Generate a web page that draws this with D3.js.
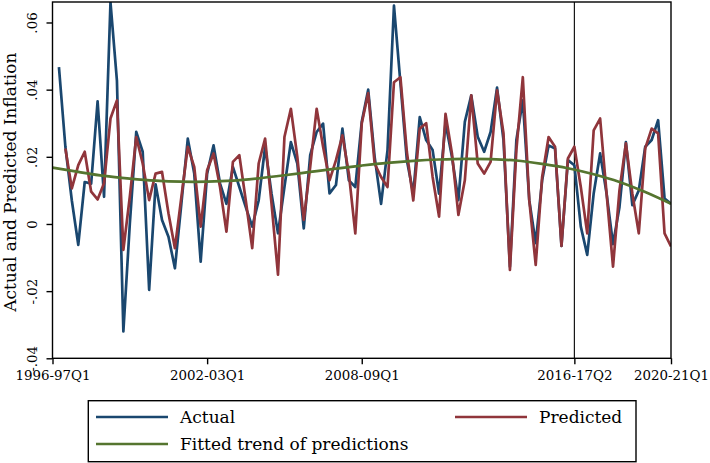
<!DOCTYPE html>
<html>
<head>
<meta charset="utf-8">
<script src="https://cdn.jsdelivr.net/npm/d3@7"></script>
<style>
  body { margin: 0; background: #fff; }
  text { font-family: "DejaVu Serif", serif; fill: #000; }
</style>
</head>
<body>
<svg id="chart"></svg>
<script>
// quarter index 0 = 1996-97Q1 ... 96 = 2020-21Q1
var tickQuarters = [0, 24, 48, 81, 96];
var tickLabels = ["1996-97Q1", "2002-03Q1", "2008-09Q1", "2016-17Q2", "2020-21Q1"];
var yTicks = [-0.04, -0.02, 0, 0.02, 0.04, 0.06];
var yTickLabels = ["-.04", "-.02", "0", ".02", ".04", ".06"];
var breakQuarter = 81;

var actual = [null, 0.0467, 0.023, 0.007, -0.0062, 0.0125, 0.012, 0.0365, 0.0081, 0.066,
  0.0427, -0.032, 0.0, 0.0274, 0.0215, -0.0196, 0.0118, 0.0012, -0.0038, -0.0132,
  0.006, 0.0254, 0.015, -0.0112, 0.015, 0.0234, 0.0121, 0.006, 0.017, 0.011,
  0.005, -0.0008, 0.007, 0.023, 0.009, -0.0028, 0.011, 0.0244, 0.018, -0.0013,
  0.0205, 0.0274, 0.0299, 0.0091, 0.0116, 0.0284, 0.013, 0.011, 0.0304, 0.040,
  0.020, 0.006, 0.022, 0.065, 0.042, 0.019, 0.009, 0.0318, 0.025, 0.022,
  0.009, 0.030, 0.020, 0.0071, 0.0304, 0.0383, 0.026, 0.0215, 0.0274, 0.0406,
  0.025, -0.0127, 0.025, 0.0368, 0.0071, -0.0057, 0.013, 0.0234, 0.0225, -0.0065,
  0.019, 0.0175, -0.0008, -0.0092, 0.0091, 0.021, 0.0091, -0.006, 0.005, 0.0244,
  0.0056, 0.010, 0.023, 0.025, 0.0309, 0.0076, 0.006];

var predicted = [null, null, 0.0225, 0.0106, 0.0175, 0.0215, 0.0096, 0.0073, 0.0121, 0.0314,
  0.0368, -0.0077, 0.0081, 0.0259, 0.018, 0.0071, 0.015, 0.0155, 0.0032, -0.0072,
  0.008, 0.023, 0.017, -0.0008, 0.016, 0.021, 0.011, -0.0023, 0.0185, 0.0205,
  0.007, -0.0072, 0.018, 0.0254, 0.006, -0.0151, 0.0259, 0.0343, 0.020, 0.0012,
  0.017, 0.0343, 0.023, 0.013, 0.019, 0.0264, 0.015, -0.0028, 0.0299, 0.039,
  0.018, 0.014, 0.011, 0.0422, 0.0437, 0.0215, 0.007, 0.0284, 0.030, 0.014,
  0.0022, 0.0328, 0.021, 0.0027, 0.013, 0.0383, 0.018, 0.015, 0.0185, 0.0398,
  0.027, -0.0137, 0.022, 0.0437, 0.0071, -0.0122, 0.014, 0.0259, 0.023, -0.0065,
  0.0195, 0.023, 0.011, -0.0028, 0.0279, 0.0314, 0.0091, -0.0127, 0.010, 0.024,
  0.0091, -0.0028, 0.0225, 0.0284, 0.027, -0.0028, -0.0067];

// fitted trend, read once a year (every 4th quarter)
var trendQuarters = [0, 4, 8, 12, 16, 20, 24, 28, 32, 36, 40, 44, 48, 52, 56, 60, 64, 68, 72, 76, 80, 84, 88, 92, 96];
var trend = [0.0168, 0.0155, 0.0143, 0.0135, 0.0129, 0.0126, 0.0126, 0.0129, 0.0136, 0.0145,
  0.0155, 0.0165, 0.0174, 0.0182, 0.0188, 0.0192, 0.0194, 0.0193, 0.0189, 0.0179,
  0.0166, 0.0148, 0.0125, 0.0095, 0.0060];

var W = 710, H = 463;
var pLeft = 52.5, pRight = 671, pTop = 2, pBottom = 358.3;

var svg = d3.select("#chart").attr("width", W).attr("height", H);

var x = d3.scaleLinear().domain([0, 96]).range([pLeft, pRight]);
var y = d3.scaleLinear().domain([-0.04, 0.0661]).range([pBottom, pTop]);

svg.append("clipPath").attr("id", "clip")
  .append("rect").attr("x", pLeft).attr("y", pTop).attr("width", pRight - pLeft).attr("height", pBottom - pTop);

// vertical marker at 2016-17Q2
svg.append("line")
  .attr("x1", x(breakQuarter)).attr("x2", x(breakQuarter))
  .attr("y1", pTop).attr("y2", pBottom)
  .attr("stroke", "#000").attr("stroke-width", 1.1);

var line = d3.line()
  .defined(function(d) { return d.v !== null; })
  .x(function(d) { return x(d.q); })
  .y(function(d) { return y(d.v); });

function series(arr) {
  return arr.map(function(v, i) { return {q: i, v: v}; });
}

var lines = svg.append("g").attr("clip-path", "url(#clip)");

lines.append("path").datum(series(actual))
  .attr("d", line).attr("fill", "none")
  .attr("stroke", "#1a476f").attr("stroke-width", 2.7).attr("stroke-linejoin", "round");

lines.append("path").datum(series(predicted))
  .attr("d", line).attr("fill", "none")
  .attr("stroke", "#90353b").attr("stroke-width", 2.7).attr("stroke-linejoin", "round");

var trendLine = d3.line()
  .curve(d3.curveCatmullRom)
  .x(function(d, i) { return x(trendQuarters[i]); })
  .y(function(d) { return y(d); });

lines.append("path").datum(trend)
  .attr("d", trendLine).attr("fill", "none")
  .attr("stroke", "#55752f").attr("stroke-width", 2.7);

// frame
svg.append("rect")
  .attr("x", pLeft).attr("y", pTop).attr("width", pRight - pLeft).attr("height", pBottom - pTop)
  .attr("fill", "none").attr("stroke", "#000").attr("stroke-width", 1.4);

// x axis
var xAxis = svg.append("g").attr("transform", "translate(0," + pBottom + ")")
  .call(d3.axisBottom(x).tickValues(tickQuarters)
    .tickFormat(function(d, i) { return tickLabels[i]; })
    .tickSize(6).tickPadding(6));
xAxis.select(".domain").remove();
xAxis.selectAll("line").attr("stroke", "#000").attr("stroke-width", 1.4);
xAxis.selectAll("text").style("font-family", "DejaVu Serif").style("font-size", "13.4px");

// y axis, labels turned sideways like the original
var yAxis = svg.append("g").attr("transform", "translate(" + pLeft + ",0)")
  .call(d3.axisLeft(y).tickValues(yTicks)
    .tickFormat(function(d, i) { return yTickLabels[i]; })
    .tickSize(6));
yAxis.select(".domain").remove();
yAxis.selectAll("line").attr("stroke", "#000").attr("stroke-width", 1.4);
yAxis.selectAll("text")
  .style("font-family", "DejaVu Serif").style("font-size", "13.4px")
  .attr("text-anchor", "middle")
  .attr("transform", "rotate(-90)")
  .attr("x", 0).attr("y", -15.5).attr("dy", null);

// y title
svg.append("text")
  .attr("transform", "translate(15.5," + ((pTop + pBottom) / 2 + 2) + ") rotate(-90)")
  .attr("text-anchor", "middle")
  .style("font-size", "17px")
  .text("Actual and Predicted Inflation");

// legend
var legend = svg.append("g");
legend.append("rect")
  .attr("x", 88.3).attr("y", 400.7).attr("width", 636 - 88.3).attr("height", 61)
  .attr("fill", "#fff").attr("stroke", "#000").attr("stroke-width", 1.4);

var legendItems = [
  {label: "Actual", color: "#1a476f", x1: 96, x2: 168, tx: 180, y: 417},
  {label: "Predicted", color: "#90353b", x1: 455, x2: 527, tx: 539, y: 417},
  {label: "Fitted trend of predictions", color: "#55752f", x1: 96, x2: 168, tx: 180, y: 444}
];
legendItems.forEach(function(d) {
  legend.append("line")
    .attr("x1", d.x1).attr("x2", d.x2).attr("y1", d.y).attr("y2", d.y)
    .attr("stroke", d.color).attr("stroke-width", 2.7);
  legend.append("text")
    .attr("x", d.tx).attr("y", d.y).attr("dy", "0.36em")
    .style("font-size", "17px")
    .text(d.label);
});
</script>
</body>
</html>
